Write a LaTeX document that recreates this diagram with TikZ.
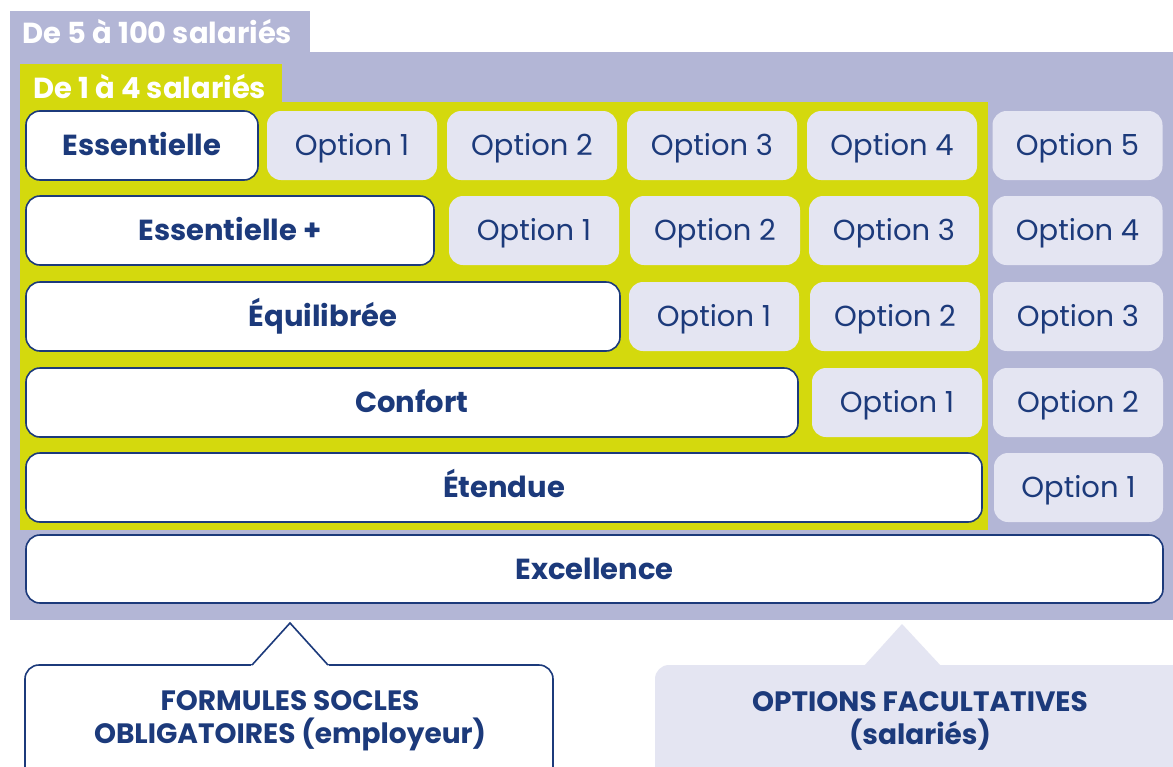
\documentclass[tikz,border=0pt]{standalone}
\usepackage{fontspec}
\setmainfont{Poppins}
\usepackage{tikz}

\definecolor{navy}{HTML}{1C3A7B}
\definecolor{lavender}{HTML}{B3B6D6}
\definecolor{lime}{HTML}{D4D90D}
\definecolor{optfill}{HTML}{E4E5F2}

\begin{document}
\begin{tikzpicture}[
		x=1pt,y=-1pt,
		socle/.style={draw=navy,line width=1.6pt,fill=white,rounded corners=14pt,
			minimum height=69pt,inner sep=0pt,text=navy,text height=20pt,text depth=0pt,
			font=\bfseries\fontsize{29}{34}\selectfont},
		option/.style={fill=optfill,rounded corners=14pt,minimum width=170pt,
			minimum height=69pt,inner sep=0pt,text=navy,text height=20pt,text depth=0pt,
			font=\fontsize{29}{34}\selectfont},
		tab/.style={anchor=west,inner sep=0pt,text=white,text height=20pt,text depth=0pt,
			font=\bfseries\fontsize{29}{34}\selectfont},
		bubble/.style={align=center,text=navy,
			font=\bfseries\fontsize{28}{33}\selectfont}]
		
		\useasboundingbox (0,0) rectangle (1173,766);
		\fill[white] (0,0) rectangle (1173,766);
		
		% backgrounds
		\fill[lavender] (10,11) rectangle (310,53);
		\fill[lavender] (10,52) rectangle (1173,620);
		\fill[lime] (20,64) rectangle (282,103);
		\fill[lime] (20,102) rectangle (988,530);
		
		\node[tab] (big)   at (22,33) {De 5 à 100 salariés};
		\node[tab] (small) at (33,88) {De 1 à 4 salariés};
		
		% socles
		\node[socle,minimum width=232pt]  (ess)  at (142,145.5) {Essentielle};
		\node[socle,minimum width=408pt]  (essp) at (230,230.5) {Essentielle +};
		\node[socle,minimum width=594pt]  (equi) at (323,316.5) {Équilibrée};
		\node[socle,minimum width=772pt]  (conf) at (412,402.5) {Confort};
		\node[socle,minimum width=956pt]  (eten) at (504,487.5) {Étendue};
		\node[socle,minimum width=1137pt,minimum height=68pt] (exc) at (594.5,569) {Excellence};
		
		% options
		\node[option] (a1) at (352,145.5)  {Option 1};
		\node[option] (a2) at (532,145.5)  {Option 2};
		\node[option] (a3) at (712,145.5)  {Option 3};
		\node[option] (a4) at (892,145.5)  {Option 4};
		\node[option] (a5) at (1077.5,145.5) {Option 5};
		
		\node[option] (b1) at (534,230.5)  {Option 1};
		\node[option] (b2) at (715,230.5)  {Option 2};
		\node[option] (b3) at (894,230.5)  {Option 3};
		\node[option] (b4) at (1077.5,230.5) {Option 4};
		
		\node[option] (c1) at (714,316.5)  {Option 1};
		\node[option] (c2) at (895,316.5)  {Option 2};
		\node[option] (c3) at (1078,316.5) {Option 3};
		
		\node[option] (d1) at (897,402.5)  {Option 1};
		\node[option] (d2) at (1078,402.5) {Option 2};
		
		\node[option,minimum width=169pt] (e1) at (1078.5,487.5) {Option 1};
		
		% callouts
		\draw[navy,line width=1.6pt,fill=white,rounded corners=14pt] (25,665) rectangle (553,790);
		\fill[white] (250,667) -- (290,624) -- (330,667) -- cycle;
		\draw[navy,line width=1.6pt] (252,665) -- (290,623) -- (328,665);
		\node[bubble] (oblig) at (290,721) {FORMULES SOCLES\\OBLIGATOIRES (employeur)};
		
		\fill[optfill,rounded corners=14pt] (655,665) rectangle (1190,790);
		\fill[optfill] (864,666) -- (902,624) -- (941,666) -- cycle;
		\node[bubble] (facul) at (920,721) {OPTIONS FACULTATIVES\\(salariés)};
		
\end{tikzpicture}
\end{document}
